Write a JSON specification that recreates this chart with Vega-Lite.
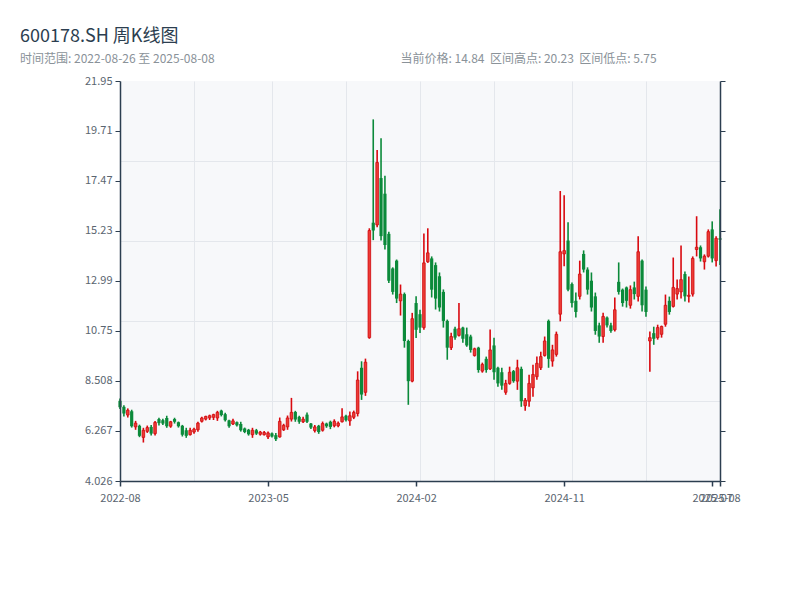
{
  "$schema": "https://vega.github.io/schema/vega-lite/v6.json",
  "width": 600,
  "height": 400,
  "autosize": {"type": "none"},
  "padding": {"left": 120, "top": 81, "right": 80, "bottom": 119},
  "background": "white",
  "title": {
    "text": "600178.SH 周K线图",
    "subtitle": "时间范围: 2022-08-26 至 2025-08-08",
    "anchor": "start",
    "frame": "group",
    "dx": -100,
    "dy": 21,
    "offset": 8,
    "font": "Noto Sans CJK SC",
    "fontSize": 18,
    "fontWeight": "normal",
    "color": "#2c3e50",
    "subtitleFont": "Noto Sans CJK SC",
    "subtitleFontSize": 12,
    "subtitleColor": "#8a9299",
    "subtitlePadding": 8
  },
  "data": {
    "values": [
      {"date": "2022-08-26", "open": 7.62, "high": 7.72, "low": 7.25, "close": 7.33},
      {"date": "2022-09-02", "open": 7.35, "high": 7.42, "low": 6.92, "close": 7.05},
      {"date": "2022-09-09", "open": 6.98, "high": 7.28, "low": 6.87, "close": 7.20},
      {"date": "2022-09-16", "open": 7.15, "high": 7.22, "low": 6.42, "close": 6.48},
      {"date": "2022-09-23", "open": 6.45, "high": 6.72, "low": 6.32, "close": 6.62},
      {"date": "2022-09-30", "open": 6.50, "high": 6.55, "low": 5.99, "close": 6.05},
      {"date": "2022-10-07", "open": 5.98, "high": 6.41, "low": 5.75, "close": 6.30},
      {"date": "2022-10-14", "open": 6.25, "high": 6.51, "low": 6.18, "close": 6.42},
      {"date": "2022-10-21", "open": 6.45, "high": 6.54, "low": 6.06, "close": 6.15},
      {"date": "2022-10-28", "open": 6.15, "high": 6.72, "low": 6.06, "close": 6.65},
      {"date": "2022-11-04", "open": 6.80, "high": 6.86, "low": 6.51, "close": 6.62},
      {"date": "2022-11-11", "open": 6.75, "high": 6.81, "low": 6.54, "close": 6.60},
      {"date": "2022-11-18", "open": 6.85, "high": 6.95, "low": 6.41, "close": 6.48},
      {"date": "2022-11-25", "open": 6.48, "high": 6.72, "low": 6.41, "close": 6.68},
      {"date": "2022-12-02", "open": 6.80, "high": 6.86, "low": 6.60, "close": 6.68},
      {"date": "2022-12-09", "open": 6.66, "high": 6.69, "low": 6.42, "close": 6.48},
      {"date": "2022-12-16", "open": 6.50, "high": 6.54, "low": 6.02, "close": 6.10},
      {"date": "2022-12-23", "open": 6.30, "high": 6.41, "low": 5.96, "close": 6.05},
      {"date": "2022-12-30", "open": 6.10, "high": 6.41, "low": 6.06, "close": 6.30},
      {"date": "2023-01-06", "open": 6.22, "high": 6.41, "low": 6.14, "close": 6.35},
      {"date": "2023-01-13", "open": 6.32, "high": 6.68, "low": 6.23, "close": 6.62},
      {"date": "2023-01-20", "open": 6.70, "high": 6.90, "low": 6.65, "close": 6.85},
      {"date": "2023-01-27", "open": 6.80, "high": 6.95, "low": 6.74, "close": 6.92},
      {"date": "2023-02-03", "open": 6.85, "high": 7.00, "low": 6.76, "close": 6.95},
      {"date": "2023-02-10", "open": 6.88, "high": 7.04, "low": 6.76, "close": 7.00},
      {"date": "2023-02-17", "open": 6.85, "high": 7.17, "low": 6.72, "close": 7.10},
      {"date": "2023-02-24", "open": 7.18, "high": 7.22, "low": 6.92, "close": 6.98},
      {"date": "2023-03-03", "open": 7.02, "high": 7.08, "low": 6.69, "close": 6.75},
      {"date": "2023-03-10", "open": 6.74, "high": 6.77, "low": 6.41, "close": 6.48},
      {"date": "2023-03-17", "open": 6.58, "high": 6.81, "low": 6.54, "close": 6.72},
      {"date": "2023-03-24", "open": 6.66, "high": 6.69, "low": 6.47, "close": 6.52},
      {"date": "2023-03-31", "open": 6.58, "high": 6.68, "low": 6.24, "close": 6.30},
      {"date": "2023-04-07", "open": 6.38, "high": 6.42, "low": 6.17, "close": 6.22},
      {"date": "2023-04-14", "open": 6.32, "high": 6.36, "low": 6.06, "close": 6.12},
      {"date": "2023-04-21", "open": 6.10, "high": 6.41, "low": 5.96, "close": 6.30},
      {"date": "2023-04-28", "open": 6.30, "high": 6.36, "low": 6.09, "close": 6.15},
      {"date": "2023-05-05", "open": 6.12, "high": 6.27, "low": 6.06, "close": 6.22},
      {"date": "2023-05-12", "open": 6.10, "high": 6.27, "low": 6.06, "close": 6.20},
      {"date": "2023-05-19", "open": 6.00, "high": 6.24, "low": 5.91, "close": 6.18},
      {"date": "2023-05-26", "open": 6.16, "high": 6.20, "low": 5.97, "close": 6.02},
      {"date": "2023-06-02", "open": 6.08, "high": 6.18, "low": 5.82, "close": 5.90},
      {"date": "2023-06-09", "open": 6.00, "high": 6.87, "low": 5.97, "close": 6.70},
      {"date": "2023-06-16", "open": 6.32, "high": 6.59, "low": 6.27, "close": 6.52},
      {"date": "2023-06-23", "open": 6.45, "high": 6.96, "low": 6.32, "close": 6.85},
      {"date": "2023-06-30", "open": 6.80, "high": 7.75, "low": 6.69, "close": 7.10},
      {"date": "2023-07-07", "open": 7.12, "high": 7.17, "low": 6.68, "close": 6.78},
      {"date": "2023-07-14", "open": 6.90, "high": 6.95, "low": 6.59, "close": 6.68},
      {"date": "2023-07-21", "open": 6.68, "high": 6.90, "low": 6.63, "close": 6.80},
      {"date": "2023-07-28", "open": 7.00, "high": 7.09, "low": 6.62, "close": 6.68},
      {"date": "2023-08-04", "open": 6.60, "high": 6.63, "low": 6.36, "close": 6.42},
      {"date": "2023-08-11", "open": 6.28, "high": 6.54, "low": 6.20, "close": 6.45},
      {"date": "2023-08-18", "open": 6.50, "high": 6.54, "low": 6.14, "close": 6.22},
      {"date": "2023-08-25", "open": 6.30, "high": 6.69, "low": 6.24, "close": 6.60},
      {"date": "2023-09-01", "open": 6.60, "high": 6.64, "low": 6.41, "close": 6.48},
      {"date": "2023-09-08", "open": 6.68, "high": 6.73, "low": 6.35, "close": 6.45},
      {"date": "2023-09-15", "open": 6.50, "high": 6.79, "low": 6.43, "close": 6.70},
      {"date": "2023-09-22", "open": 6.50, "high": 6.69, "low": 6.43, "close": 6.62},
      {"date": "2023-09-29", "open": 6.68, "high": 7.29, "low": 6.65, "close": 6.90},
      {"date": "2023-10-06", "open": 6.95, "high": 7.00, "low": 6.69, "close": 6.75},
      {"date": "2023-10-13", "open": 6.72, "high": 7.14, "low": 6.50, "close": 6.95},
      {"date": "2023-10-20", "open": 6.88, "high": 7.18, "low": 6.80, "close": 7.10},
      {"date": "2023-10-27", "open": 7.05, "high": 8.94, "low": 6.92, "close": 8.55},
      {"date": "2023-11-03", "open": 9.10, "high": 9.39, "low": 7.66, "close": 7.90},
      {"date": "2023-11-10", "open": 8.00, "high": 9.51, "low": 7.84, "close": 9.35},
      {"date": "2023-11-17", "open": 10.45, "high": 15.35, "low": 10.40, "close": 15.25},
      {"date": "2023-11-24", "open": 15.60, "high": 20.23, "low": 14.82, "close": 15.25},
      {"date": "2023-12-01", "open": 15.50, "high": 18.86, "low": 15.40, "close": 18.30},
      {"date": "2023-12-08", "open": 17.60, "high": 19.39, "low": 14.80, "close": 15.00},
      {"date": "2023-12-15", "open": 16.90, "high": 17.70, "low": 14.40, "close": 14.60},
      {"date": "2023-12-22", "open": 15.10, "high": 15.20, "low": 12.90, "close": 13.00},
      {"date": "2023-12-29", "open": 13.55, "high": 13.60, "low": 12.38, "close": 12.50},
      {"date": "2024-01-05", "open": 13.90, "high": 13.95, "low": 12.00, "close": 12.20},
      {"date": "2024-01-12", "open": 12.10, "high": 12.83, "low": 11.44, "close": 12.40},
      {"date": "2024-01-19", "open": 12.40, "high": 12.47, "low": 10.00, "close": 10.30},
      {"date": "2024-01-26", "open": 10.30, "high": 10.36, "low": 7.44, "close": 8.50},
      {"date": "2024-02-02", "open": 8.50, "high": 11.56, "low": 8.45, "close": 11.30},
      {"date": "2024-02-09", "open": 12.00, "high": 12.30, "low": 10.43, "close": 10.80},
      {"date": "2024-02-16", "open": 11.50, "high": 11.70, "low": 10.66, "close": 10.90},
      {"date": "2024-02-23", "open": 10.90, "high": 15.12, "low": 10.80, "close": 13.80},
      {"date": "2024-03-01", "open": 13.85, "high": 15.35, "low": 13.80, "close": 14.25},
      {"date": "2024-03-08", "open": 14.00, "high": 14.09, "low": 12.25, "close": 12.60},
      {"date": "2024-03-15", "open": 13.70, "high": 13.82, "low": 11.71, "close": 12.20},
      {"date": "2024-03-22", "open": 13.20, "high": 13.37, "low": 11.62, "close": 11.80},
      {"date": "2024-03-29", "open": 12.50, "high": 12.61, "low": 10.90, "close": 11.20},
      {"date": "2024-04-05", "open": 11.20, "high": 11.26, "low": 9.46, "close": 10.00},
      {"date": "2024-04-12", "open": 10.00, "high": 10.67, "low": 9.90, "close": 10.50},
      {"date": "2024-04-19", "open": 10.85, "high": 10.94, "low": 10.36, "close": 10.45},
      {"date": "2024-04-26", "open": 10.55, "high": 12.00, "low": 10.50, "close": 10.85},
      {"date": "2024-05-03", "open": 10.90, "high": 10.94, "low": 10.22, "close": 10.40},
      {"date": "2024-05-10", "open": 10.60, "high": 10.90, "low": 10.04, "close": 10.10},
      {"date": "2024-05-17", "open": 10.50, "high": 10.58, "low": 9.78, "close": 9.90},
      {"date": "2024-05-24", "open": 9.65, "high": 10.00, "low": 9.60, "close": 9.95},
      {"date": "2024-05-31", "open": 10.00, "high": 10.04, "low": 8.88, "close": 9.00},
      {"date": "2024-06-07", "open": 8.95, "high": 9.33, "low": 8.88, "close": 9.25},
      {"date": "2024-06-14", "open": 9.50, "high": 9.60, "low": 8.88, "close": 9.00},
      {"date": "2024-06-21", "open": 9.05, "high": 10.81, "low": 9.00, "close": 9.90},
      {"date": "2024-06-28", "open": 10.10, "high": 10.45, "low": 8.56, "close": 8.90},
      {"date": "2024-07-05", "open": 9.10, "high": 9.15, "low": 8.25, "close": 8.40},
      {"date": "2024-07-12", "open": 8.90, "high": 9.10, "low": 8.11, "close": 8.30},
      {"date": "2024-07-19", "open": 8.00, "high": 8.56, "low": 7.89, "close": 8.40},
      {"date": "2024-07-26", "open": 8.40, "high": 9.15, "low": 8.34, "close": 8.90},
      {"date": "2024-08-02", "open": 8.95, "high": 9.00, "low": 8.43, "close": 8.50},
      {"date": "2024-08-09", "open": 8.50, "high": 9.46, "low": 8.11, "close": 9.10},
      {"date": "2024-08-16", "open": 9.05, "high": 9.15, "low": 7.35, "close": 7.60},
      {"date": "2024-08-23", "open": 7.40, "high": 7.75, "low": 7.17, "close": 7.65},
      {"date": "2024-08-30", "open": 7.60, "high": 8.79, "low": 7.35, "close": 8.40},
      {"date": "2024-09-06", "open": 8.20, "high": 9.24, "low": 7.80, "close": 8.80},
      {"date": "2024-09-13", "open": 8.70, "high": 9.60, "low": 8.56, "close": 9.30},
      {"date": "2024-09-20", "open": 9.10, "high": 9.82, "low": 9.00, "close": 9.60},
      {"date": "2024-09-27", "open": 9.65, "high": 10.50, "low": 9.60, "close": 10.30},
      {"date": "2024-10-04", "open": 11.20, "high": 11.26, "low": 9.10, "close": 9.50},
      {"date": "2024-10-11", "open": 9.40, "high": 10.13, "low": 9.15, "close": 9.90},
      {"date": "2024-10-18", "open": 9.70, "high": 10.72, "low": 9.60, "close": 10.60},
      {"date": "2024-10-25", "open": 11.50, "high": 17.02, "low": 11.18, "close": 14.30},
      {"date": "2024-11-01", "open": 14.20, "high": 16.83, "low": 13.65, "close": 14.35},
      {"date": "2024-11-08", "open": 14.80, "high": 15.62, "low": 12.53, "close": 12.60},
      {"date": "2024-11-15", "open": 12.85, "high": 12.92, "low": 11.80, "close": 12.00},
      {"date": "2024-11-22", "open": 12.10, "high": 12.47, "low": 11.35, "close": 11.60},
      {"date": "2024-11-29", "open": 12.30, "high": 13.90, "low": 12.16, "close": 13.30},
      {"date": "2024-12-06", "open": 14.20, "high": 14.36, "low": 13.37, "close": 13.50},
      {"date": "2024-12-13", "open": 13.50, "high": 13.60, "low": 12.38, "close": 12.60},
      {"date": "2024-12-20", "open": 13.00, "high": 13.37, "low": 11.62, "close": 11.80},
      {"date": "2024-12-27", "open": 12.30, "high": 12.47, "low": 10.58, "close": 10.75},
      {"date": "2025-01-03", "open": 11.00, "high": 11.12, "low": 10.22, "close": 10.50},
      {"date": "2025-01-10", "open": 10.50, "high": 11.57, "low": 10.22, "close": 11.40},
      {"date": "2025-01-17", "open": 11.35, "high": 11.40, "low": 10.90, "close": 11.00},
      {"date": "2025-01-24", "open": 11.00, "high": 11.12, "low": 10.67, "close": 10.75},
      {"date": "2025-01-31", "open": 10.80, "high": 12.25, "low": 10.72, "close": 11.70},
      {"date": "2025-02-07", "open": 12.95, "high": 13.82, "low": 12.38, "close": 12.50},
      {"date": "2025-02-14", "open": 12.60, "high": 12.65, "low": 11.84, "close": 12.00},
      {"date": "2025-02-21", "open": 12.70, "high": 12.74, "low": 11.80, "close": 12.10},
      {"date": "2025-02-28", "open": 11.90, "high": 12.79, "low": 11.75, "close": 12.60},
      {"date": "2025-03-07", "open": 12.70, "high": 12.96, "low": 12.16, "close": 12.40},
      {"date": "2025-03-14", "open": 12.30, "high": 14.99, "low": 12.07, "close": 14.30},
      {"date": "2025-03-21", "open": 13.90, "high": 13.95, "low": 11.62, "close": 11.90},
      {"date": "2025-03-28", "open": 12.60, "high": 12.74, "low": 11.39, "close": 11.60},
      {"date": "2025-04-04", "open": 10.30, "high": 10.72, "low": 8.92, "close": 10.45},
      {"date": "2025-04-11", "open": 10.65, "high": 10.94, "low": 10.13, "close": 10.40},
      {"date": "2025-04-18", "open": 10.45, "high": 11.03, "low": 10.36, "close": 10.90},
      {"date": "2025-04-25", "open": 10.60, "high": 10.99, "low": 10.45, "close": 10.95},
      {"date": "2025-05-02", "open": 11.05, "high": 12.38, "low": 10.94, "close": 11.90},
      {"date": "2025-05-09", "open": 12.10, "high": 12.29, "low": 11.48, "close": 11.60},
      {"date": "2025-05-16", "open": 11.85, "high": 14.04, "low": 11.80, "close": 12.70},
      {"date": "2025-05-23", "open": 12.40, "high": 13.06, "low": 12.16, "close": 12.65},
      {"date": "2025-05-30", "open": 12.50, "high": 14.58, "low": 12.20, "close": 13.05},
      {"date": "2025-06-06", "open": 13.30, "high": 13.41, "low": 12.07, "close": 12.30},
      {"date": "2025-06-13", "open": 12.30, "high": 13.19, "low": 12.02, "close": 12.35},
      {"date": "2025-06-20", "open": 12.40, "high": 14.09, "low": 12.29, "close": 14.00},
      {"date": "2025-06-27", "open": 14.40, "high": 15.89, "low": 14.09, "close": 14.50},
      {"date": "2025-07-04", "open": 14.50, "high": 14.58, "low": 13.86, "close": 14.00},
      {"date": "2025-07-11", "open": 13.85, "high": 14.18, "low": 13.50, "close": 14.10},
      {"date": "2025-07-18", "open": 14.10, "high": 15.30, "low": 14.04, "close": 15.20},
      {"date": "2025-07-25", "open": 15.30, "high": 15.66, "low": 13.82, "close": 14.00},
      {"date": "2025-08-01", "open": 13.90, "high": 14.99, "low": 13.64, "close": 14.90},
      {"date": "2025-08-08", "open": 14.90, "high": 16.20, "low": 13.70, "close": 14.84}
    ]
  },
  "resolve": {"axis": {"x": "independent", "y": "independent"}},
  "layer": [
    {
      "mark": {"type": "rule", "strokeWidth": 1.6},
      "encoding": {
        "x": {
          "field": "date", "type": "ordinal",
          "scale": {"type": "point", "padding": 0},
          "axis": {
            "values": ["2022-08-26", "2023-05-19", "2024-02-09", "2024-11-01", "2025-07-25", "2025-08-08"],
            "labelExpr": "substring(datum.label, 0, 7)",
            "labelAngle": 0, "grid": false, "title": null, "zindex": 2,
            "domainColor": "#2c3e50", "domainWidth": 1.5, "tickColor": "#2c3e50", "tickWidth": 1.5, "tickSize": 5,
            "labelColor": "#5a6570", "labelFontSize": 11, "labelFont": "Noto Sans CJK SC", "labelPadding": 6
          }
        },
        "y": {
          "field": "low", "type": "quantitative",
          "scale": {"domain": [4.026, 21.95], "nice": false, "zero": false},
          "axis": {
            "values": [4.026, 6.267, 8.508, 10.75, 12.99, 15.23, 17.47, 19.71, 21.95],
            "format": ".4~r", "grid": false, "title": null, "zindex": 2,
            "domainColor": "#2c3e50", "domainWidth": 1.5, "tickColor": "#2c3e50", "tickWidth": 1, "tickSize": 5,
            "labelColor": "#5a6570", "labelFontSize": 11, "labelFont": "Noto Sans CJK SC", "labelPadding": 3
          }
        },
        "y2": {"field": "high"},
        "color": {"condition": {"test": "datum.close >= datum.open", "value": "#d9090f"}, "value": "#0b8a3a"}
      }
    },
    {
      "transform": [{"filter": "datum.close >= datum.open"}],
      "mark": {"type": "bar", "size": 2.6, "fill": "#ec3b35", "stroke": "#d10a0f", "strokeWidth": 0.8},
      "encoding": {
        "x": {
          "field": "date", "type": "ordinal",
          "axis": {
            "orient": "top",
            "values": ["2023-01-06", "2023-05-26", "2023-10-06", "2024-02-16", "2024-06-28", "2024-11-15", "2025-03-28"],
            "labels": false, "ticks": false, "domain": false, "grid": true,
            "gridColor": "#e4e7ec", "gridWidth": 1, "zindex": 0,
            "title": "当前价格: 14.84\u00a0\u00a0区间高点: 20.23\u00a0\u00a0区间低点: 5.75",
            "titleFont": "Noto Sans CJK SC", "titleFontSize": 12, "titleFontWeight": "normal", "titleColor": "#8a9299",
            "titleAnchor": "start", "titleAlign": "left", "titleX": 280, "titleY": -23, "titleBaseline": "middle"
          }
        },
        "y": {
          "field": "open", "type": "quantitative",
          "axis": {
            "orient": "right",
            "values": [4.026, 6.267, 8.508, 10.75, 12.99, 15.23, 17.47, 19.71, 21.95],
            "labels": false, "grid": false, "title": null, "zindex": 2,
            "domainColor": "#2c3e50", "domainWidth": 1.5, "tickColor": "#2c3e50", "tickWidth": 1, "tickSize": 5
          }
        },
        "y2": {"field": "close"}
      }
    },
    {
      "transform": [{"filter": "datum.close < datum.open"}],
      "mark": {"type": "bar", "size": 3.2, "fill": "#0b8a3a"},
      "encoding": {
        "x": {"field": "date", "type": "ordinal", "axis": null},
        "y": {
          "field": "open", "type": "quantitative",
          "axis": {
            "values": [7.611, 11.196, 14.78, 18.365],
            "labels": false, "ticks": false, "domain": false, "grid": true, "title": null,
            "gridColor": "#e4e7ec", "gridWidth": 1, "zindex": 0
          }
        },
        "y2": {"field": "close"}
      }
    }
  ],
  "config": {
    "view": {"fill": "#f7f8fa", "stroke": null},
    "font": "Noto Sans CJK SC"
  }
}
